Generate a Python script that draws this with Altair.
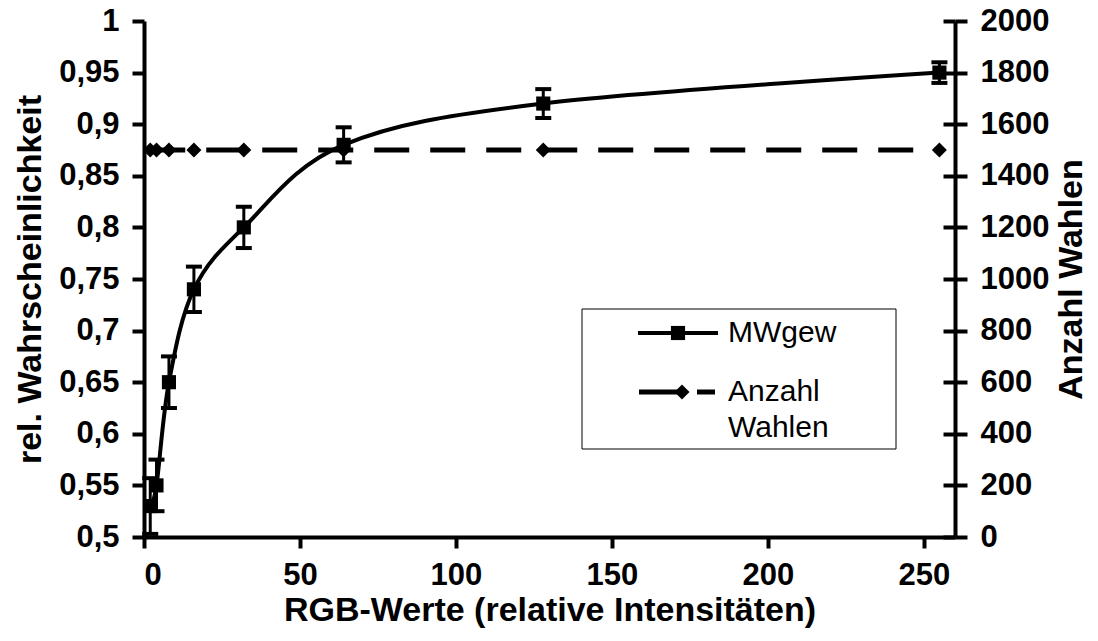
import altair as alt
import pandas as pd

# ---- data ----
rgb_werte = [2, 4, 8, 16, 32, 64, 128, 255]
mw_gew = [0.53, 0.55, 0.65, 0.74, 0.80, 0.88, 0.92, 0.95]
mw_fehler = [0.027, 0.025, 0.025, 0.022, 0.020, 0.017, 0.014, 0.010]
anzahl_wahlen = [1500, 1500, 1500, 1500, 1500, 1500, 1500, 1500]

x_ticks = [0, 50, 100, 150, 200, 250]
y_left_ticks = [0.5, 0.55, 0.6, 0.65, 0.7, 0.75, 0.8, 0.85, 0.9, 0.95, 1.0]
y_right_ticks = [0, 200, 400, 600, 800, 1000, 1200, 1400, 1600, 1800, 2000]
legend_labels = ["MWgew", "Anzahl", "Wahlen"]

FONT = "Liberation Sans"
W, H = 811, 516

df = pd.DataFrame({
    "rgb": rgb_werte,
    "mw": mw_gew,
    "lo": [m - e for m, e in zip(mw_gew, mw_fehler)],
    "hi": [m + e for m, e in zip(mw_gew, mw_fehler)],
    "anzahl": anzahl_wahlen,
})

x_enc = alt.X(
    "rgb:Q",
    scale=alt.Scale(domain=[0, 260], nice=False, zero=True),
    axis=alt.Axis(values=x_ticks, title="RGB-Werte (relative Intensitäten)",
                  tickSize=11, labelPadding=12, titleY=73, titleBaseline="middle",
                  titleAlign="center"),
)

left_scale = alt.Scale(domain=[0.5, 1.0], nice=False, zero=False)
left_axis = alt.Axis(
    orient="left", values=y_left_ticks,
    labelExpr="replace(format(datum.value, '.2~f'), '.', ',')",
    title="rel. Wahrscheinlichkeit", titleX=-114, titleY=H / 2, titleAngle=270,
    titleAlign="center", titleBaseline="middle", tickSize=12, labelPadding=13,
)
right_scale = alt.Scale(domain=[0, 2000], nice=False, zero=True)
right_axis = alt.Axis(
    orient="right", values=y_right_ticks, format="d",
    title="Anzahl Wahlen", titleX=116, titleY=H / 2, titleAngle=270,
    titleAlign="center", titleBaseline="middle", tickSize=12, labelPadding=13,
)
# inner half of the crossing ticks on the right axis
right_inner_axis = alt.Axis(
    orient="right", values=y_right_ticks, offset=-12, tickSize=12,
    domain=False, labels=False, title=None,
)

base = alt.Chart(df)

# right axis series: Anzahl Wahlen (dashed, diamonds)
anz_line = base.mark_line(color="black", strokeWidth=5, strokeDash=[35, 21]).encode(
    x=x_enc, y=alt.Y("anzahl:Q", scale=right_scale, axis=right_axis))
anz_pts = base.mark_point(shape="diamond", filled=True, color="black", size=225, opacity=1).encode(
    x=x_enc, y=alt.Y("anzahl:Q", scale=right_scale, axis=right_axis))
right = alt.layer(anz_line, anz_pts)

inner_ticks = base.mark_point(opacity=0).encode(
    x=x_enc, y=alt.Y("anzahl:Q", scale=right_scale, axis=right_inner_axis))

# left axis series: MWgew (smooth line, squares, error bars)
err_rule = base.mark_rule(color="black", strokeWidth=3, clip=True).encode(
    x=x_enc, y=alt.Y("lo:Q", scale=left_scale, axis=left_axis), y2="hi:Q")
err_lo = base.mark_tick(orient="horizontal", color="black", size=16, thickness=4, opacity=1).encode(
    x=x_enc, y=alt.Y("lo:Q", scale=left_scale, axis=left_axis))
err_hi = base.mark_tick(orient="horizontal", color="black", size=16, thickness=4, opacity=1).encode(
    x=x_enc, y=alt.Y("hi:Q", scale=left_scale, axis=left_axis))
mw_line = base.mark_line(color="black", strokeWidth=4, interpolate="cardinal").encode(
    x=x_enc, y=alt.Y("mw:Q", scale=left_scale, axis=left_axis))
mw_pts = base.mark_point(shape="square", filled=True, color="black", size=200, opacity=1).encode(
    x=x_enc, y=alt.Y("mw:Q", scale=left_scale, axis=left_axis))
left = alt.layer(err_rule, err_lo, err_hi, mw_line, mw_pts)

# legend box (drawn by hand, like the Excel legend)
one = alt.Data(values=[{}])
leg_box = alt.Chart(one).mark_rect(fill="white", stroke="black", strokeWidth=1).encode(
    x=alt.value(438), x2=alt.value(752), y=alt.value(288), y2=alt.value(428))
leg_l1 = alt.Chart(one).mark_rule(color="black", strokeWidth=4).encode(
    x=alt.value(494), x2=alt.value(574), y=alt.value(312))
leg_sq = alt.Chart(one).mark_point(shape="square", filled=True, color="black", size=200, opacity=1).encode(
    x=alt.value(534), y=alt.value(312))
leg_t1 = alt.Chart(one).mark_text(align="left", baseline="middle", font=FONT, fontSize=30, color="black").encode(
    x=alt.value(584), y=alt.value(312), text=alt.value(legend_labels[0]))
leg_l2a = alt.Chart(one).mark_rule(color="black", strokeWidth=5).encode(
    x=alt.value(495), x2=alt.value(541), y=alt.value(371))
leg_l2b = alt.Chart(one).mark_rule(color="black", strokeWidth=5).encode(
    x=alt.value(553), x2=alt.value(571), y=alt.value(371))
leg_dm = alt.Chart(one).mark_point(shape="diamond", filled=True, color="black", size=225, opacity=1).encode(
    x=alt.value(538), y=alt.value(371))
leg_t2 = alt.Chart(one).mark_text(align="left", baseline="middle", font=FONT, fontSize=30, color="black").encode(
    x=alt.value(584), y=alt.value(371), text=alt.value(legend_labels[1]))
leg_t3 = alt.Chart(one).mark_text(align="left", baseline="middle", font=FONT, fontSize=30, color="black").encode(
    x=alt.value(584), y=alt.value(407), text=alt.value(legend_labels[2]))

chart = alt.layer(
    right, left, inner_ticks, leg_box, leg_l1, leg_sq, leg_t1, leg_l2a, leg_l2b, leg_dm, leg_t2, leg_t3
).resolve_scale(y="independent").properties(
    width=W, height=H,
    autosize=alt.AutoSizeParams(type="none"),
    padding={"left": 136, "top": 13, "right": 135, "bottom": 96},
).configure_view(stroke=None).configure_axis(
    domainColor="black", domainWidth=4, tickColor="black", tickWidth=4,
    labelFont=FONT, labelFontSize=31, labelFontWeight="bold", labelColor="black",
    titleFont=FONT, titleFontSize=34, titleFontWeight="bold", titleColor="black",
    grid=False,
)

chart.save("out.html", embed_options={"renderer": "svg", "actions": False})
